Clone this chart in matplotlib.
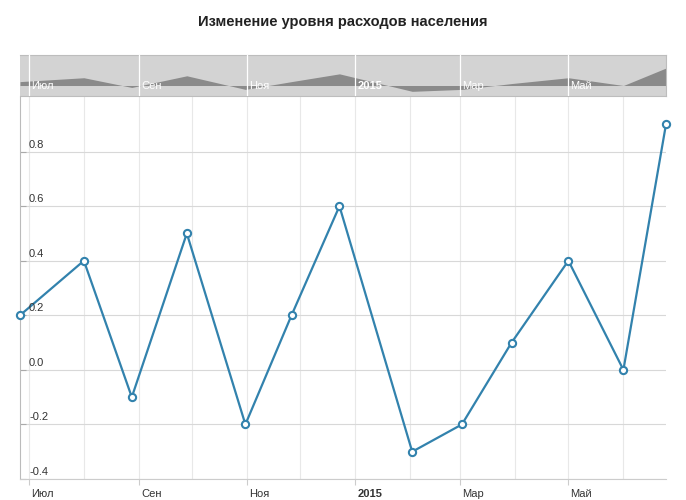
import matplotlib
matplotlib.use("Agg")
import matplotlib.pyplot as plt
import matplotlib.dates as mdates
from matplotlib.transforms import ScaledTranslation, blended_transform_factory
import pandas as pd

plt.rcParams['font.family'] = ['Liberation Sans', 'DejaVu Sans']

title = "Изменение уровня расходов населения"
dates = ["2014-06-26", "2014-08-01", "2014-08-28", "2014-09-28", "2014-10-31",
         "2014-11-26", "2014-12-23", "2015-02-02", "2015-03-02", "2015-03-30",
         "2015-05-01", "2015-06-01", "2015-06-25"]
values = [0.2, 0.4, -0.1, 0.5, -0.2, 0.2, 0.6, -0.3, -0.2, 0.1, 0.4, 0.0, 0.9]
tick_dates = ["2014-07-01", "2014-09-01", "2014-11-01", "2015-01-01", "2015-03-01", "2015-05-01"]
tick_labels = ["Июл", "Сен", "Ноя", "2015", "Мар", "Май"]
y_ticks = [-0.4, -0.2, 0.0, 0.2, 0.4, 0.6, 0.8]

x = pd.to_datetime(dates)
tx = mdates.date2num(pd.to_datetime(tick_dates))
months = pd.date_range("2014-07-01", "2015-06-01", freq="MS")
mx = mdates.date2num(months)

W, H = 686, 500
fig = plt.figure(figsize=(W / 100, H / 100), dpi=100)
fig.patch.set_facecolor("white")

line_color = "#3282ad"
text_color = "#333333"

# ---- main axes
ax = fig.add_axes([20 / W, (H - 479) / H, 646 / W, 382 / H])
ax.plot(x, values, color=line_color, lw=1.6, marker="o", ms=5.2,
        mfc="white", mec=line_color, mew=1.5, zorder=3, clip_on=False)
ax.set_xlim(x[0], x[-1])
ax.set_ylim(-0.4, 1.0)

for m in mx:
    ax.axvline(m, color="#e8e8e8", lw=0.8, zorder=0)
for yv in y_ticks:
    ax.axhline(yv, color="#d8d8d8", lw=0.8, zorder=0)

ax.set_yticks(y_ticks)
ax.set_yticklabels([])
ax.tick_params(axis="y", direction="in", length=4, color="#aaaaaa", width=0.8)
btf = blended_transform_factory(ax.transAxes, ax.transData)
off = ScaledTranslation(9 / 100, 2 / 100, fig.dpi_scale_trans)
for yv in y_ticks:
    ax.text(0, yv, f"{yv:.1f}", transform=btf + off, ha="left", va="bottom",
            fontsize=8, color=text_color)

ax.set_xticks(tx)
ax.set_xticklabels(tick_labels, fontsize=8, color=text_color, ha="left")
ax.tick_params(axis="x", direction="out", length=4, color="#cccccc", width=0.8, pad=3)
for lab in ax.get_xticklabels():
    lab.set_transform(lab.get_transform() + ScaledTranslation(2 / 100, 0, fig.dpi_scale_trans))
    if lab.get_text() == "2015":
        lab.set_fontweight("bold")

for s in ["top", "right"]:
    ax.spines[s].set_visible(False)
ax.spines["left"].set_color("#bbbbbb")
ax.spines["left"].set_linewidth(0.8)
ax.spines["bottom"].set_color("#cccccc")
ax.spines["bottom"].set_linewidth(0.8)

# ---- navigator
nav = fig.add_axes([20 / W, (H - 96) / H, 646 / W, 41 / H])
nav.set_facecolor("#d3d3d3")
nav.fill_between(x, values, 0, color="#8a8a8a", lw=0, zorder=2)
nav.set_xlim(x[0], x[-1])
nav.set_ylim(-0.54, 1.57)
for t in tx:
    nav.axvline(t, color="white", lw=0.9, zorder=3)
nav.set_xticks([])
nav.set_yticks([])
ntf = blended_transform_factory(nav.transData, nav.transAxes)
noff = ScaledTranslation(2 / 100, 0, fig.dpi_scale_trans)
for t, lab in zip(tx, tick_labels):
    nav.text(t, 0.24, lab, transform=ntf + noff, ha="left", va="center",
             fontsize=8, color="white",
             fontweight="bold" if lab == "2015" else "normal", zorder=4)
for s in nav.spines.values():
    s.set_color("#bdbdbd")
    s.set_linewidth(0.8)
nav.spines["left"].set_visible(False)

fig.text(343 / W, 1 - 22 / H, title, ha="center", va="center",
         fontsize=10.5, fontweight="bold", color="#222222")

fig.savefig("out.png", dpi=100, facecolor="white")
